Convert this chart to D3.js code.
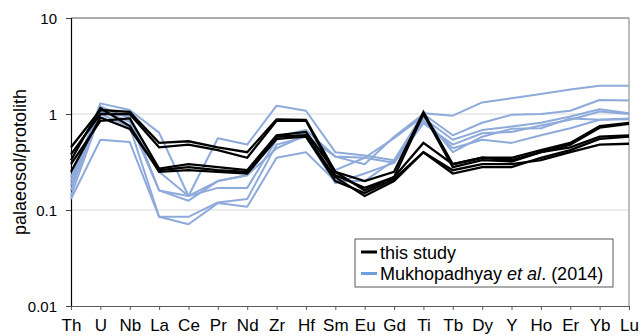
<!DOCTYPE html>
<html>
<head>
<meta charset="utf-8">
<script src="https://cdn.jsdelivr.net/npm/d3@7"></script>
<style>
  body { margin: 0; background: #fff; }
  svg text { font-family: "Liberation Sans", Arial, sans-serif; fill: #000; }
</style>
</head>
<body>
<div id="chart"></div>
<script>
var elements = ["Th", "U", "Nb", "La", "Ce", "Pr", "Nd", "Zr", "Hf", "Sm", "Eu", "Gd", "Ti", "Tb", "Dy", "Y", "Ho", "Er", "Yb", "Lu"];
var yTicks = [0.01, 0.1, 1, 10];
var yTickLabels = ["0.01", "0.1", "1", "10"];

// this study (palaeosol / protolith)
var thisStudy = [
    [0.45, 1.10, 1.05, 0.50, 0.52, 0.45, 0.40, 0.88, 0.87, 0.25, 0.20, 0.25, 1.05, 0.30, 0.35, 0.35, 0.42, 0.50, 0.75, 0.81],
    [0.38, 1.00, 1.00, 0.45, 0.48, 0.42, 0.35, 0.85, 0.85, 0.23, 0.17, 0.22, 1.00, 0.28, 0.33, 0.32, 0.40, 0.48, 0.72, 0.79],
    [0.30, 0.85, 0.90, 0.27, 0.30, 0.28, 0.26, 0.60, 0.65, 0.25, 0.16, 0.22, 0.50, 0.30, 0.35, 0.33, 0.40, 0.45, 0.58, 0.60],
    [0.25, 0.92, 0.70, 0.26, 0.28, 0.26, 0.25, 0.58, 0.60, 0.22, 0.14, 0.20, 0.40, 0.24, 0.28, 0.28, 0.35, 0.42, 0.55, 0.58],
    [0.33, 1.15, 0.75, 0.25, 0.26, 0.25, 0.24, 0.55, 0.58, 0.20, 0.15, 0.21, 0.40, 0.26, 0.30, 0.30, 0.33, 0.40, 0.48, 0.49]
];

// Mukhopadhyay et al. (2014)
var mukhopadhyay = [
    [0.20, 1.29, 1.10, 0.64, 0.14, 0.56, 0.48, 1.22, 1.08, 0.40, 0.37, 0.33, 1.02, 0.96, 1.32, 1.46, 1.62, 1.80, 1.97, 1.97],
    [0.18, 1.20, 0.90, 0.25, 0.14, 0.20, 0.23, 0.58, 0.68, 0.36, 0.30, 0.58, 1.00, 0.60, 0.81, 0.98, 1.00, 1.08, 1.40, 1.38],
    [0.16, 1.10, 0.83, 0.16, 0.14, 0.17, 0.17, 0.54, 0.63, 0.26, 0.35, 0.31, 0.91, 0.54, 0.68, 0.74, 0.81, 0.94, 1.12, 1.02],
    [0.14, 1.00, 0.74, 0.085, 0.085, 0.12, 0.13, 0.48, 0.58, 0.19, 0.24, 0.31, 0.80, 0.48, 0.63, 0.65, 0.76, 0.87, 1.06, 1.00],
    [0.13, 0.54, 0.51, 0.085, 0.071, 0.118, 0.108, 0.35, 0.40, 0.20, 0.20, 0.33, 0.85, 0.44, 0.54, 0.50, 0.60, 0.71, 0.87, 0.88],
    [0.22, 1.05, 0.95, 0.16, 0.125, 0.20, 0.23, 0.44, 0.60, 0.36, 0.35, 0.56, 0.95, 0.40, 0.58, 0.70, 0.71, 0.90, 0.87, 0.90]
];

var width = 641, height = 336;
var margin = { top: 18, right: 12, bottom: 30, left: 71 };

var svg = d3.select("#chart").append("svg")
    .attr("width", width)
    .attr("height", height);

var x = d3.scalePoint()
    .domain(elements)
    .range([margin.left, width - margin.right]);

var y = d3.scaleLog()
    .domain([0.01, 10])
    .range([height - margin.bottom, margin.top]);

// gridlines
svg.append("g")
    .selectAll("line")
    .data([0.1, 1])
    .enter()
    .append("line")
    .attr("x1", margin.left)
    .attr("x2", width - margin.right)
    .attr("y1", function (d) { return y(d); })
    .attr("y2", function (d) { return y(d); })
    .attr("stroke", "#d9d9d9")
    .attr("stroke-width", 1);

// plot frame (top + right)
svg.append("line")
    .attr("x1", margin.left).attr("x2", width - margin.right)
    .attr("y1", y(10)).attr("y2", y(10))
    .attr("stroke", "#595959").attr("stroke-width", 1);
svg.append("line")
    .attr("x1", width - margin.right).attr("x2", width - margin.right)
    .attr("y1", y(10)).attr("y2", y(0.01))
    .attr("stroke", "#7f7f7f").attr("stroke-width", 1);

// axes
var yAxis = d3.axisLeft(y)
    .tickValues(yTicks)
    .tickFormat(function (d, i) { return yTickLabels[i]; })
    .tickSize(5)
    .tickPadding(9);

var gy = svg.append("g")
    .attr("transform", "translate(" + margin.left + ",0)")
    .call(yAxis);
gy.select(".domain").attr("stroke", "#000").attr("stroke-width", 1.2);
gy.selectAll(".tick line").attr("stroke", "#404040");
gy.selectAll("text").style("font-size", "15px").attr("dy", "0.36em");

var xAxis = d3.axisBottom(x)
    .tickSize(4)
    .tickSizeOuter(0)
    .tickPadding(9);

var gx = svg.append("g")
    .attr("transform", "translate(0," + y(0.01) + ")")
    .call(xAxis);
gx.select(".domain").attr("stroke", "#595959");
gx.selectAll(".tick line").attr("stroke", "#595959");
gx.selectAll("text").style("font-size", "17px");

// y title
svg.append("text")
    .attr("transform", "translate(26," + 162 + ") rotate(-90)")
    .attr("text-anchor", "middle")
    .style("font-size", "18px")
    .text("palaeosol/protolith");

var line = d3.line()
    .x(function (d, i) { return x(elements[i]); })
    .y(function (d) { return y(d); });

svg.append("g")
    .selectAll("path")
    .data(mukhopadhyay)
    .enter()
    .append("path")
    .attr("d", line)
    .attr("fill", "none")
    .attr("stroke", "#8eaadb")
    .attr("stroke-width", 2)
    .attr("stroke-linejoin", "round");

svg.append("g")
    .selectAll("path")
    .data(thisStudy)
    .enter()
    .append("path")
    .attr("d", line)
    .attr("fill", "none")
    .attr("stroke", "#000")
    .attr("stroke-width", 2.3)
    .attr("stroke-linejoin", "miter");

// legend
var legend = svg.append("g").attr("transform", "translate(355,239)");
legend.append("rect")
    .attr("width", 258).attr("height", 48)
    .attr("fill", "#fff")
    .attr("stroke", "#595959");

var legendItems = [
    { label: "this study", color: "#000" },
    { label: "Mukhopadhyay", color: "#6e9fdc" }
];

legendItems.forEach(function (item, i) {
    var yy = 13 + i * 21.5;
    legend.append("line")
        .attr("x1", 6).attr("x2", 22)
        .attr("y1", yy).attr("y2", yy)
        .attr("stroke", item.color)
        .attr("stroke-width", 3);
    var t = legend.append("text")
        .attr("x", 25).attr("y", yy + 6.5)
        .style("font-size", "18px");
    if (i === 0) {
        t.text(item.label);
    } else {
        t.append("tspan").text("Mukhopadhyay ");
        t.append("tspan").style("font-style", "italic").text("et al");
        t.append("tspan").text(". (2014)");
    }
});
</script>
</body>
</html>
